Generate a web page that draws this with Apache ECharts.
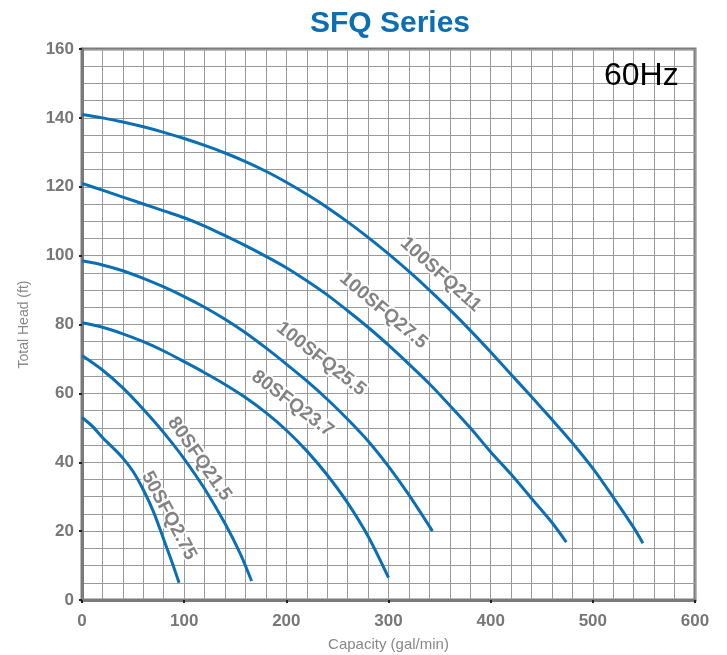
<!DOCTYPE html>
<html>
<head>
<meta charset="utf-8">
<script src="https://cdn.jsdelivr.net/npm/echarts@6/dist/echarts.min.js"></script>
<style>html,body{margin:0;padding:0;background:#fff}#c{width:727px;height:655px}</style>
</head>
<body>
<div id="c"></div>
<script>
// Pump curves: [capacity (gal/min), total head (ft)]
const q100SFQ211 = [[0,141],[20,140],[40,138.8],[60,137.4],[80,135.8],[100,134],[120,132],[140,129.8],[160,127.3],[180,124.5],[200,121.3],[220,117.8],[240,114],[260,109.8],[280,105.3],[300,100.5],[320,95.4],[340,90],[360,84.3],[380,78.3],[400,72],[420,65.5],[440,59],[460,52.4],[480,45.6],[500,38.2],[520,29.8],[540,21],[549,16.5]];
const q100SFQ27_5 = [[0,121],[20,119],[40,117],[60,115],[80,113],[100,111],[120,108.6],[140,105.8],[160,102.9],[180,99.8],[200,96.5],[220,92.7],[240,88.6],[260,84],[280,79.2],[300,74],[320,68.5],[340,62.8],[360,56.5],[380,50],[400,43],[420,36.5],[440,29.5],[460,22.5],[474,16.8]];
const q100SFQ25_5 = [[0,98.5],[20,97.3],[40,95.6],[60,93.4],[80,90.9],[100,88.1],[120,85],[140,81.5],[160,77.6],[180,73.2],[200,68.5],[220,63.6],[240,58.3],[260,52.5],[280,46.2],[300,38.8],[320,30.5],[343,20]];
const q80SFQ23_7 = [[0,80.5],[20,79.2],[40,77.3],[60,75],[80,72.3],[100,69.2],[120,66],[140,62.6],[160,58.8],[180,54.4],[200,49.3],[220,43.3],[240,36.3],[260,28.2],[280,18.5],[300,6.5]];
const q80SFQ21_5 = [[0,71],[20,66.8],[40,61.6],[60,55.4],[80,48.6],[100,41],[120,32.3],[140,22.2],[155,13.4],[166,5.5]];
const q50SFQ2_75 = [[0,53],[10,50.5],[20,47.2],[30,44.3],[40,41.2],[50,37.3],[60,32],[70,25.6],[80,17.6],[90,9.4],[95,5]];

const seriesNames = ['100SFQ211','100SFQ27.5','100SFQ25.5','80SFQ23.7','80SFQ21.5','50SFQ2.75'];
const seriesData = [q100SFQ211,q100SFQ27_5,q100SFQ25_5,q80SFQ23_7,q80SFQ21_5,q50SFQ2_75];

// Curve labels anchored in data coordinates
const labelCoords = [[351,94.5],[295,84],[234,70],[206,57],[115,41],[85,24.5]];
const labelAngles = [-42,-40,-38,-37,-55,-62];

const xTicks = [0,100,200,300,400,500,600];
const yTicks = [0,20,40,60,80,100,120,140,160];

const blue = '#0b6fb6';
const FONT = 'Liberation Sans, Arial, sans-serif';
const chart = echarts.init(document.getElementById('c'));

const series = seriesData.map((d,i)=>({
  type:'line', name:seriesNames[i], data:d, showSymbol:false, smooth:0.3,
  lineStyle:{color:blue,width:3,cap:'butt'}, z:3, silent:true
}));
series.push({
  type:'scatter', symbolSize:0, z:5, silent:true,
  data: labelCoords.map((c,i)=>({
    value:c,
    label:{show:true, formatter:seriesNames[i], rotate:labelAngles[i], position:'inside',
      color:'#646464', fontSize:19, fontFamily:FONT, fontWeight:'bold',
      textBorderColor:'#fff', textBorderWidth:4}
  }))
});

chart.setOption({
  animation:false,
  backgroundColor:'#fff',
  title:{text:'SFQ Series', top:4, left:385, textAlign:'center',
    textStyle:{color:blue, fontSize:30, fontWeight:'bold', fontFamily:FONT}},
  graphic:[{type:'text', left:604, top:60, style:{text:'60Hz', fill:'#000', fontSize:32, fontFamily:FONT}, z:10}],
  grid:{left:82, right:32, top:49, bottom:55, show:true, borderColor:'#7a7a7a', borderWidth:3,
    containLabel:false, outerBoundsMode:'none'},
  xAxis:{type:'value', min:0, max:600, interval:100,
    name:'Capacity (gal/min)', nameLocation:'middle', nameGap:37,
    nameTextStyle:{color:'#888', fontSize:15, fontFamily:FONT},
    axisLine:{show:true, lineStyle:{color:'#7a7a7a', width:3}},
    axisTick:{show:true, length:3, lineStyle:{color:'#222', width:2}},
    axisLabel:{color:'#777', fontSize:17, fontWeight:'bold', margin:13, fontFamily:FONT,
      formatter:v=>xTicks.includes(v)?String(v):''},
    splitLine:{show:true, lineStyle:{color:'#999', width:1}},
    minorTick:{show:false, splitNumber:5},
    minorSplitLine:{show:true, lineStyle:{color:'#999', width:1}}
  },
  yAxis:{type:'value', min:0, max:160, interval:20,
    name:'Total Head (ft)', nameLocation:'middle', nameGap:51, nameRotate:90,
    nameTextStyle:{color:'#888', fontSize:14, fontFamily:FONT},
    axisLine:{show:true, lineStyle:{color:'#7a7a7a', width:3}},
    axisTick:{show:true, length:3, lineStyle:{color:'#222', width:2}},
    axisLabel:{color:'#777', fontSize:17, fontWeight:'bold', margin:8, fontFamily:FONT,
      formatter:v=>yTicks.includes(v)?String(v):''},
    splitLine:{show:true, lineStyle:{color:'#999', width:1}},
    minorTick:{show:false, splitNumber:4},
    minorSplitLine:{show:true, lineStyle:{color:'#999', width:1}}
  },
  series:series
});
</script>
</body>
</html>
